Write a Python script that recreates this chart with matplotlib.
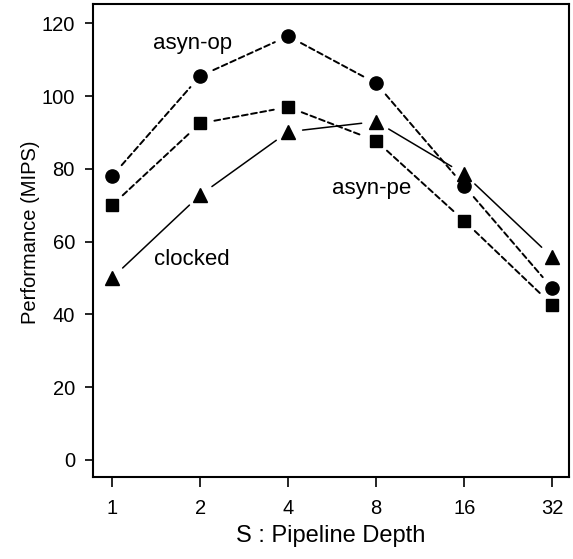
#!/usr/bin/env python3

import numpy as np
import matplotlib
matplotlib.use("Agg")
import matplotlib.pyplot as plt

# Data.

depth = [1, 2, 4, 8, 16, 32]
asyn_op = [78, 105.5, 116.5, 103.5, 75.3, 47.2]
asyn_pe = [70, 92.5, 97, 87.7, 65.7, 42.6]
clocked = [50, 72.8, 90.2, 93, 78.6, 55.7]

series = [
    (asyn_op, "o", 9.5, (0, (3, 1.8)), 1.4),
    (asyn_pe, "s", 8.5, (0, (3, 1.8)), 1.4),
    (clocked, "^", 9.5, "-", 1.1),
]

matplotlib.rcParams["font.family"] = ["Liberation Sans", "DejaVu Sans"]
matplotlib.rcParams["font.size"] = 14

fig = plt.figure(figsize=(5.73, 5.59), dpi=100)
ax = fig.add_axes([0.1623, 0.1467, 0.8307, 0.846])

ax.set_xscale("log", base=2)

# Lines with gaps around the points, like R's type="b".

for values, marker, size, style, width in series:
    for i in range(len(depth) - 1):
        ax.annotate("", xy=(depth[i + 1], values[i + 1]), xytext=(depth[i], values[i]),
                    arrowprops=dict(arrowstyle="-", shrinkA=10.5, shrinkB=10.5,
                                    linestyle=style, lw=width, color="black"))
    ax.plot(depth, values, ls="none", marker=marker, ms=size, color="black")

# Series labels.

ax.text(1.88, 114.6, "asyn-op", ha="center", va="center", fontsize=16)
ax.text(7.73, 74.7, "asyn-pe", ha="center", va="center", fontsize=16)
ax.text(1.88, 55, "clocked", ha="center", va="center", fontsize=16)

ax.set_xlim(2 ** -0.216, 2 ** 5.19)
ax.set_ylim(-4.7, 125.3)

ax.set_xticks(depth)
ax.set_xticklabels([str(d) for d in depth])
ax.xaxis.set_minor_locator(matplotlib.ticker.NullLocator())
ax.set_yticks([0, 20, 40, 60, 80, 100, 120])

ax.tick_params(axis="x", direction="out", length=7, width=1.2, pad=9, labelsize=14.5)
ax.tick_params(axis="y", direction="out", length=6, width=1.2, pad=7, labelsize=14.5)
for spine in ax.spines.values():
    spine.set_linewidth(1.5)

ax.set_xlabel("S : Pipeline Depth", fontsize=17, labelpad=5)
ax.set_ylabel("Performance (MIPS)", fontsize=14.5)
ax.yaxis.set_label_coords(-0.112, 0.518)

fig.savefig("out.png", dpi=100)
